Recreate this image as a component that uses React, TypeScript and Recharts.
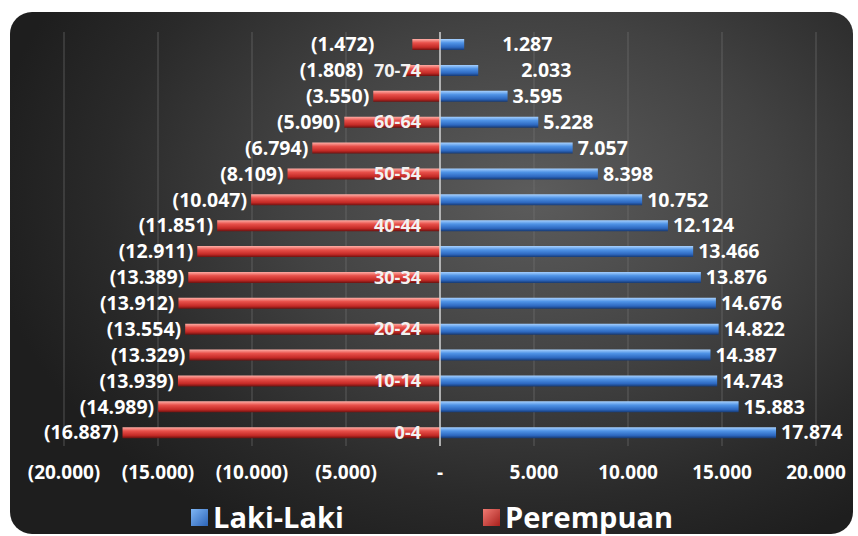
import React from 'react';
import { BarChart, Bar, XAxis, YAxis, CartesianGrid, ReferenceLine, LabelList } from 'recharts';

// age groups, youngest first (axis is reversed so 0-4 sits at the bottom)
const AGE_GROUPS = ['0-4', '5-9', '10-14', '15-19', '20-24', '25-29', '30-34', '35-39', '40-44', '45-49', '50-54', '55-59', '60-64', '65-69', '70-74', '75+'];
const LAKI_LAKI = [17874, 15883, 14743, 14387, 14822, 14676, 13876, 13466, 12124, 10752, 8398, 7057, 5228, 3595, 2033, 1287];
const PEREMPUAN = [16887, 14989, 13939, 13329, 13554, 13912, 13389, 12911, 11851, 10047, 8109, 6794, 5090, 3550, 1808, 1472];
const X_TICKS = [-20000, -15000, -10000, -5000, 0, 5000, 10000, 15000, 20000];

const rows = AGE_GROUPS.map((age, i) => ({
  age,
  laki: LAKI_LAKI[i],
  perempuan: -PEREMPUAN[i],
}));

// labels of the two oldest groups were pushed away from the bars in the original
const NUDGE_RIGHT: Record<string, number> = { '75+': 33, '70-74': 38 };
const NUDGE_LEFT: Record<string, number> = { '75+': 34, '70-74': 39 };

const FONT = '"Open Sans", "Noto Sans", sans-serif';

const dots = (n: number) => String(n).replace(/\B(?=(\d{3})+(?!\d))/g, '.');
const fmtTick = (v: number) => (v === 0 ? '-' : v < 0 ? `(${dots(-v)})` : dots(v));

const lakiLabel = (props: any) => {
  const { x, y, width, height, index } = props;
  const end = Math.max(x, x + width);
  const age = AGE_GROUPS[index];
  return (
    <text x={end + 5 + (NUDGE_RIGHT[age] || 0)} y={y + height / 2} dy="0.35em" fill="#fff" fontSize={19.5} fontWeight={700} fontFamily={FONT} textAnchor="start">
      {dots(LAKI_LAKI[index])}
    </text>
  );
};

const perempuanLabel = (props: any) => {
  const { x, y, width, height, index } = props;
  const start = Math.min(x, x + width);
  const zero = Math.max(x, x + width);
  const age = AGE_GROUPS[index];
  return (
    <g>
      <text x={start - 4 - (NUDGE_LEFT[age] || 0)} y={y + height / 2} dy="0.35em" fill="#fff" fontSize={19.5} fontWeight={700} fontFamily={FONT} textAnchor="end">
        {`(${dots(PEREMPUAN[index])})`}
      </text>
      {index % 2 === 0 && (
        <text x={zero - 19} y={y + height / 2} dy="0.35em" fill="#f2f2f2" fontSize={18} fontWeight={700} fontFamily={FONT} textAnchor="end">
          {age}
        </text>
      )}
    </g>
  );
};

const LegendItem = ({ color, dark, text, left }: { color: string; dark: string; text: string; left: number }) => (
  <div style={{ position: 'absolute', left, top: 499, display: 'flex', alignItems: 'center' }}>
    <div style={{ width: 17, height: 17, background: `linear-gradient(135deg, ${color}, ${dark})`, marginRight: 5 }} />
    <span style={{ color: '#fff', fontFamily: FONT, fontWeight: 700, fontSize: 29, lineHeight: '36px' }}>{text}</span>
  </div>
);

export default function App() {
  return (
    <div style={{ position: 'fixed', left: 0, top: 0, width: 858, height: 536, background: '#fff', overflow: 'hidden' }}>
      <div
        style={{
          position: 'absolute', left: 10, top: 12, width: 843, height: 522, borderRadius: 22,
          background: 'radial-gradient(ellipse 65% 75% at 62% 35%, #5c5c5c 0%, #424242 45%, #2a2a2a 78%, #1e1e1e 100%)',
        }}
      />
      <div style={{ position: 'absolute', left: 0, top: 0 }}>
        <BarChart
          width={858}
          height={536}
          layout="vertical"
          data={rows}
          stackOffset="sign"
          barSize={11}
          margin={{ top: 32, right: 42, bottom: 50, left: 64 }}
        >
          <defs>
            <linearGradient id="gBlue" x1="0" y1="0" x2="0" y2="1">
              <stop offset="0%" stopColor="#a9d2ff" />
              <stop offset="35%" stopColor="#4f93e6" />
              <stop offset="75%" stopColor="#2d68c0" />
              <stop offset="100%" stopColor="#173a73" />
            </linearGradient>
            <linearGradient id="gRed" x1="0" y1="0" x2="0" y2="1">
              <stop offset="0%" stopColor="#ffb0a8" />
              <stop offset="35%" stopColor="#e8504a" />
              <stop offset="75%" stopColor="#c42a26" />
              <stop offset="100%" stopColor="#6e1210" />
            </linearGradient>
          </defs>
          <CartesianGrid horizontal={false} stroke="#777" strokeOpacity={0.6} />
          <XAxis
            type="number"
            domain={[-20000, 20000]}
            ticks={X_TICKS}
            tickFormatter={fmtTick}
            axisLine={false}
            tickLine={false}
            height={40}
            tickMargin={14}
            tick={{ fill: '#fff', fontSize: 19, fontWeight: 700, fontFamily: FONT }}
            interval={0}
          />
          <YAxis type="category" dataKey="age" reversed hide />
          <Bar dataKey="perempuan" stackId="a" fill="url(#gRed)" isAnimationActive={false}>
            <LabelList dataKey="perempuan" content={perempuanLabel} />
          </Bar>
          <Bar dataKey="laki" stackId="a" fill="url(#gBlue)" isAnimationActive={false}>
            <LabelList dataKey="laki" content={lakiLabel} />
          </Bar>
          <ReferenceLine x={0} stroke="#d0d0d0" strokeWidth={1.5} />
        </BarChart>
      </div>
      <LegendItem color="#7fb6f5" dark="#2c64b8" text="Laki-Laki" left={191} />
      <LegendItem color="#f07a72" dark="#a8201c" text="Perempuan" left={483} />
    </div>
  );
}
